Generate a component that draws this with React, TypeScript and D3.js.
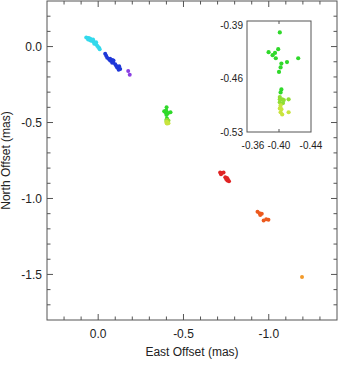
import React from "react";
import * as d3 from "d3";

// ---- data (mas) ----
const cyanEast = [0.070, 0.059, 0.053, 0.047, 0.041, 0.035, 0.041, 0.029, 0.023, 0.018, 0.023, 0.012, 0.006, 0.000, -0.006, -0.009, 0.059, 0.047, 0.030, 0.012];
const cyanNorth = [0.060, 0.057, 0.054, 0.051, 0.047, 0.044, 0.038, 0.034, 0.028, 0.024, 0.018, 0.015, 0.005, -0.002, -0.009, -0.018, 0.047, 0.041, 0.046, 0.028];

const blueEast = [-0.041, -0.047, -0.053, -0.064, -0.070, -0.076, -0.082, -0.088, -0.082, -0.100, -0.105, -0.111, -0.117, -0.123, -0.120, -0.129, -0.070, -0.090];
const blueNorth = [-0.048, -0.061, -0.074, -0.084, -0.091, -0.094, -0.088, -0.101, -0.107, -0.117, -0.127, -0.137, -0.140, -0.130, -0.153, -0.147, -0.080, -0.092];

const purpleEast = [-0.176, -0.185];
const purpleNorth = [-0.160, -0.186];

const greenEast = [-0.401, -0.387, -0.392, -0.395, -0.399, -0.396, -0.424, -0.410, -0.403, -0.402, -0.400, -0.403, -0.402];
const greenNorth = [-0.399, -0.425, -0.429, -0.426, -0.421, -0.433, -0.433, -0.438, -0.440, -0.445, -0.451, -0.474, -0.478];

const limeEast = [-0.401, -0.401, -0.404, -0.406, -0.412, -0.401, -0.405];
const limeNorth = [-0.484, -0.487, -0.487, -0.488, -0.487, -0.491, -0.492];

const yellowEast = [-0.402, -0.401, -0.403, -0.402, -0.404, -0.412];
const yellowNorth = [-0.495, -0.499, -0.500, -0.504, -0.507, -0.504];

const redEast = [-0.715, -0.725, -0.735, -0.720, -0.745, -0.755, -0.760, -0.757, -0.767, -0.750];
const redNorth = [-0.829, -0.833, -0.829, -0.840, -0.860, -0.866, -0.873, -0.882, -0.886, -0.871];

const orangeRedEast = [-0.934, -0.946, -0.959, -0.950, -0.970, -0.985, -0.998];
const orangeRedNorth = [-1.087, -1.098, -1.101, -1.108, -1.145, -1.136, -1.140];

const orangeEast = [-1.195];
const orangeNorth = [-1.517];

const groups = [
  { name: "cyan", east: cyanEast, north: cyanNorth },
  { name: "blue", east: blueEast, north: blueNorth },
  { name: "purple", east: purpleEast, north: purpleNorth },
  { name: "green", east: greenEast, north: greenNorth },
  { name: "lime", east: limeEast, north: limeNorth },
  { name: "yellow", east: yellowEast, north: yellowNorth },
  { name: "red", east: redEast, north: redNorth },
  { name: "orangered", east: orangeRedEast, north: orangeRedNorth },
  { name: "orange", east: orangeEast, north: orangeNorth },
];
const groupNames = ["cyan", "blue", "purple", "green", "lime", "yellow", "red", "orangered", "orange"];
const groupColors = ["#33d9ec", "#1f38d8", "#8a3fe2", "#2fd92a", "#8fde34", "#c9e43e", "#e02424", "#ec5a1e", "#f29a2a"];

const xMajor = [0.0, -0.5, -1.0];
const yMajor = [0.0, -0.5, -1.0, -1.5];
const insetXTicks = [-0.36, -0.40, -0.44];
const insetYTicks = [-0.39, -0.46, -0.53];

const W = 338, H = 375;
const FONT = "'Liberation Sans', Arial, Helvetica, sans-serif";
const fmt = (spec: string) => (v: number) => d3.format(spec)(v).replace("\u2212", "-");

export default function App() {
  const L = 47, R = 337, T = 1, B = 320;
  const x = d3.scaleLinear().domain([0.3, -1.4]).range([L, R]);
  const y = d3.scaleLinear().domain([-1.8, 0.3]).range([B, T]);
  const color = d3.scaleOrdinal<string, string>().domain(groupNames).range(groupColors);

  const xMinor = d3.range(3, -15, -1).map((v) => v / 10).filter((v) => v < 0.3 && v > -1.4);
  const yMinor = d3.range(-17, 3).map((v) => v / 10);
  const isMajor = (v: number, arr: number[]) => arr.some((m) => Math.abs(m - v) < 1e-6);

  const iL = 247, iR = 311, iT = 21, iB = 132;
  const ix = d3.scaleLinear().domain([-0.36, -0.44]).range([iL, iR]);
  const iy = d3.scaleLinear().domain([-0.53, -0.384]).range([iB, iT]);

  const insetGroups = groups.filter((g) => g.name === "green" || g.name === "lime" || g.name === "yellow");
  const stroke = "#555";
  const textColor = "#222";
  const f1 = fmt(".1f");
  const f2 = fmt(".2f");

  return (
    <svg width={W} height={H} style={{ position: "absolute", left: 0, top: 0, background: "#fff" }} fontFamily={FONT}>
      <rect x={0} y={0} width={W} height={H} fill="#fff" />
      {/* points */}
      {groups.map((g) =>
        g.east.map((e, i) => (
          <circle key={g.name + i} cx={x(e)} cy={y(g.north[i])} r={2} fill={color(g.name)} />
        ))
      )}
      {/* frame */}
      <rect x={L} y={T} width={R - L} height={B - T} fill="none" stroke={stroke} strokeWidth={1} />
      {/* ticks */}
      {xMinor.map((v) => {
        const len = isMajor(v, xMajor) ? 6 : 3.5;
        const px = x(v);
        return (
          <g key={"xt" + v}>
            <line x1={px} x2={px} y1={B} y2={B - len} stroke={stroke} />
            <line x1={px} x2={px} y1={T} y2={T + len} stroke={stroke} />
          </g>
        );
      })}
      {yMinor.map((v) => {
        const len = isMajor(v, yMajor) ? 6 : 3.5;
        const py = y(v);
        return (
          <g key={"yt" + v}>
            <line x1={L} x2={L + len} y1={py} y2={py} stroke={stroke} />
            <line x1={R} x2={R - len} y1={py} y2={py} stroke={stroke} />
          </g>
        );
      })}
      {xMajor.map((v) => (
        <text key={"xl" + v} x={x(v)} y={337.5} textAnchor="middle" fontSize={12} fill={textColor}>
          {f1(v)}
        </text>
      ))}
      {yMajor.map((v) => (
        <text key={"yl" + v} x={42} y={y(v)} dy="0.35em" textAnchor="end" fontSize={12} fill={textColor}>
          {f1(v)}
        </text>
      ))}
      <text x={(L + R) / 2} y={356} textAnchor="middle" fontSize={12} fill={textColor}>
        East Offset (mas)
      </text>
      <text transform={`translate(10, ${(T + B) / 2}) rotate(-90)`} textAnchor="middle" fontSize={12} fill={textColor}>
        North Offset (mas)
      </text>

      {/* inset */}
      <rect x={iL} y={iT} width={iR - iL} height={iB - iT} fill="#fff" stroke={stroke} strokeWidth={1} />
      {insetGroups.map((g) =>
        g.east.map((e, i) => (
          <circle key={"in" + g.name + i} cx={ix(e)} cy={iy(g.north[i])} r={2.1} fill={color(g.name)} />
        ))
      )}
      <line x1={ix(-0.4)} x2={ix(-0.4)} y1={iB} y2={iB - 3} stroke={stroke} />
      <line x1={ix(-0.4)} x2={ix(-0.4)} y1={iT} y2={iT + 3} stroke={stroke} />
      {insetXTicks.map((v, i) => (
        <text key={"ixl" + v} x={ix(v) + (i === 0 ? 6 : 0)} y={149} textAnchor="middle" fontSize={10} fill={textColor}>
          {f2(v)}
        </text>
      ))}
      {insetYTicks.map((v) => (
        <text key={"iyl" + v} x={iL - 4} y={iy(v)} dy="0.35em" textAnchor="end" fontSize={10} fill={textColor}>
          {f2(v)}
        </text>
      ))}
    </svg>
  );
}
